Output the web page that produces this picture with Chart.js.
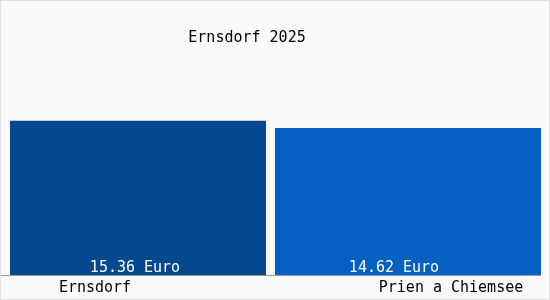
<!DOCTYPE html>
<html>
<head>
<meta charset="utf-8">
<script src="https://cdn.jsdelivr.net/npm/chart.js@4/dist/chart.umd.min.js"></script>
<style>
  html, body { margin: 0; padding: 0; background: #f9f9f9; }
  #wrap { width: 548px; height: 298px; border: 1px solid #e2e2e2; position: relative; }
</style>
</head>
<body>
<div id="wrap"><canvas id="chart"></canvas></div>
<script>
const chartTitle = 'Ernsdorf 2025';
const places = ['Ernsdorf', 'Prien a Chiemsee'];
const prices = [15.36, 14.62];
const unit = 'Euro';
const barColors = ['#044890', '#0560c4'];

const FONT = '15px "DejaVu Sans Mono", monospace';

// text drawn by hand: value inside the bar foot, place names under the axis
const textPlugin = {
    id: 'texts',
    afterDatasetsDraw: function(chart) {
        const ctx = chart.ctx;
        const x = chart.scales.x;
        const area = chart.chartArea;
        ctx.save();
        ctx.font = FONT;
        ctx.textBaseline = 'middle';
        ctx.textAlign = 'center';

        // axis line
        ctx.strokeStyle = '#9a9a9a';
        ctx.lineWidth = 1;
        ctx.beginPath();
        ctx.moveTo(0, area.bottom + 0.5);
        ctx.lineTo(540, area.bottom + 0.5);
        ctx.stroke();

        const valueShift = [-3, -14];
        const nameShift = [-43, 43];
        prices.forEach(function(v, i) {
            const cx = x.getPixelForValue(i);
            ctx.fillStyle = '#ffffff';
            ctx.fillText(v.toFixed(2) + ' ' + unit, cx + valueShift[i], area.bottom - 7);
            ctx.fillStyle = '#000000';
            ctx.fillText(places[i], cx + nameShift[i], area.bottom + 13);
        });

        ctx.fillText(chartTitle, 246, 37);
        ctx.restore();
    }
};

const ctx = document.getElementById('chart');

new Chart(ctx, {
    type: 'bar',
    data: {
        labels: places,
        datasets: [
            {
                data: [prices[0], null],
                backgroundColor: barColors[0],
                barPercentage: 0.948,
                categoryPercentage: 1
            },
            {
                data: [null, prices[1]],
                backgroundColor: barColors[1],
                barPercentage: 0.985,
                categoryPercentage: 1
            }
        ]
    },
    options: {
        responsive: true,
        maintainAspectRatio: false,
        animation: false,
        layout: {
            padding: { left: 2, right: 6, top: 73, bottom: 24 }
        },
        scales: {
            x: {
                display: false,
                grid: { display: false }
            },
            y: {
                display: false,
                min: 0,
                max: 20
            }
        },
        datasets: {
            bar: { grouped: false }
        },
        plugins: {
            legend: { display: false },
            title: { display: false },
            tooltip: { enabled: false }
        }
    },
    plugins: [textPlugin]
});
</script>
</body>
</html>
